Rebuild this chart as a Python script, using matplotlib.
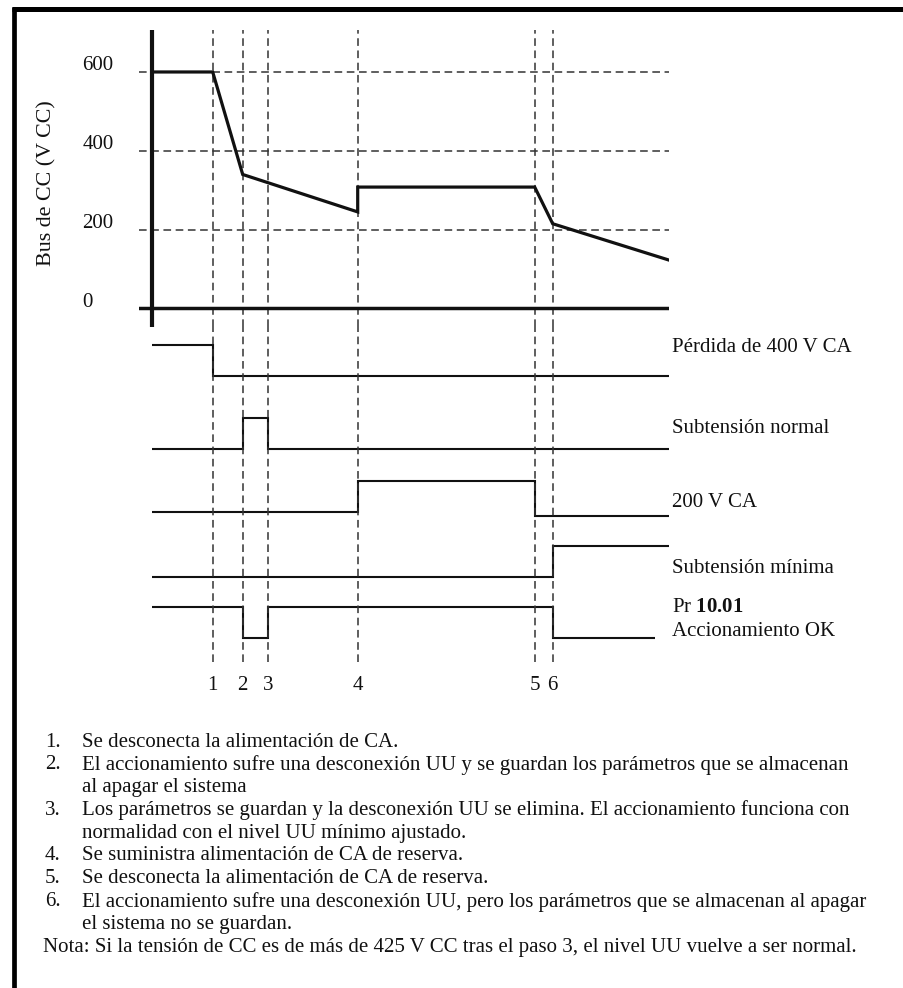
import matplotlib
matplotlib.use("Agg")
import matplotlib.pyplot as plt
from matplotlib.lines import Line2D
import numpy as np

plt.rcParams["font.family"] = ["Liberation Serif", "DejaVu Serif"]
plt.rcParams["mathtext.fontset"] = "custom"
plt.rcParams["mathtext.rm"] = "Liberation Serif"
plt.rcParams["mathtext.bf"] = "Liberation Serif:bold"

# ---- data -------------------------------------------------------------
# event instants (arbitrary time units) and end of the time window
event_labels = ["1", "2", "3", "4", "5", "6"]
event_times = [6.1, 9.1, 11.6, 20.6, 38.3, 40.1]
t_end = 51.7

# DC bus voltage trace
bus_time = [0.0, 6.1, 9.1, 20.6, 20.6, 38.3, 40.1, 51.7]
bus_volts = [600, 600, 340, 245, 308, 308, 215, 123]
volt_ticks = [0, 200, 400, 600]
volt_label = "Bus de CC (V CC)"

# logic signals: switching edges and level between edges
sig_names = ["Pérdida de 400 V CA", "Subtensión normal", "200 V CA",
             "Subtensión mínima", "Pr $\\mathbf{10.01}$\nAccionamiento OK"]
sig_edges = [
    [0.0, 6.1, 51.7],
    [0.0, 9.1, 11.6, 51.7],
    [0.0, 20.6, 38.3, 51.7],
    [0.0, 40.1, 51.7],
    [0.0, 9.1, 11.6, 40.1, 50.3],
]
sig_levels = [
    [1, 0],
    [0, 1, 0],
    [0, 1, -0.13],
    [0, 1],
    [1, 0, 1, 0],
]

notes = [
    ("1.", "Se desconecta la alimentación de CA."),
    ("2.", "El accionamiento sufre una desconexión UU y se guardan los parámetros que se almacenan"),
    ("", "al apagar el sistema"),
    ("3.", "Los parámetros se guardan y la desconexión UU se elimina. El accionamiento funciona con"),
    ("", "normalidad con el nivel UU mínimo ajustado."),
    ("4.", "Se suministra alimentación de CA de reserva."),
    ("5.", "Se desconecta la alimentación de CA de reserva."),
    ("6.", "El accionamiento sufre una desconexión UU, pero los parámetros que se almacenan al apagar"),
    ("", "el sistema no se guardan."),
]
footnote = "Nota: Si la tensión de CC es de más de 425 V CC tras el paso 3, el nivel UU vuelve a ser normal."

# ---- layout -----------------------------------------------------------
W, H = 904, 988
fig = plt.figure(figsize=(W / 100, H / 100), dpi=100)


def px_rect(x0, y0, x1, y1):
    return [x0 / W, 1 - y1 / H, (x1 - x0) / W, (y1 - y0) / H]


FS = 15.0
DASH = (0, (5, 3))
GRID_C = "#333333"
INK = "#111111"

# voltage panel
ax_v = fig.add_axes(px_rect(139, 30, 668.7, 327))
ax_v.set_xlim(-1.27, t_end)
ax_v.set_ylim(-47, 706.5)
ax_v.axis("off")
for v in volt_ticks[1:]:
    ax_v.axhline(v, color=GRID_C, lw=1.1, ls=DASH)
for t in event_times:
    ax_v.axvline(t, color=GRID_C, lw=1.1, ls=DASH)
ax_v.axhline(0, color=INK, lw=2.5)
ax_v.axvline(0, color=INK, lw=3.0)
ax_v.plot(bus_time, bus_volts, color=INK, lw=2.3, solid_joinstyle="miter")
for v in volt_ticks:
    ax_v.text(-6.95, v + 16, str(v), ha="left", va="center", fontsize=FS,
              color=INK, clip_on=False)
fig.text(47 / W, 1 - 183 / H, volt_label, rotation=90, ha="center", va="center",
         fontsize=15.8, color=INK)

# logic panel (y measured downwards from the top of the drawing area)
ax_l = fig.add_axes(px_rect(139, 327, 668.7, 662), sharex=ax_v)
ax_l.set_ylim(662, 327)
ax_l.axis("off")
for t in event_times:
    ax_l.axvline(t, color=GRID_C, lw=1.1, ls=DASH)

row_low = [375.7, 448.7, 511.7, 576.7, 637.7]
row_amp = 31
label_y = [347, 428, 502, 568, 619.5]
for edges, levels, base, name, ly in zip(sig_edges, sig_levels, row_low, sig_names, label_y):
    vals = base - np.asarray(levels, dtype=float) * row_amp
    ax_l.stairs(vals, edges, baseline=None, color=INK, lw=1.5)
    ax_l.text(t_end + 0.3, ly, name, ha="left", va="center", fontsize=FS,
              color=INK, clip_on=False, linespacing=1.3)

for t, lab in zip(event_times, event_labels):
    ax_l.text(t, 685, lab, ha="center", va="center", fontsize=FS, color=INK,
              clip_on=False)

# numbered notes
y0, dy = 742, 22.8
for i, (num, txt) in enumerate(notes):
    y = y0 + i * dy
    if num:
        fig.text(45 / W, 1 - y / H, num, ha="left", va="center", fontsize=FS, color=INK)
    fig.text(82 / W, 1 - y / H, txt, ha="left", va="center", fontsize=FS, color=INK)
fig.text(43 / W, 1 - (y0 + len(notes) * dy) / H, footnote, ha="left", va="center",
         fontsize=FS, color=INK)

# frame
fig.add_artist(Line2D([14 / W, 14 / W], [1 - 7 / H, 0], transform=fig.transFigure,
                      color="black", lw=3.4, solid_capstyle="butt"))
fig.add_artist(Line2D([12 / W, 1], [1 - 9.5 / H, 1 - 9.5 / H], transform=fig.transFigure,
                      color="black", lw=3.6, solid_capstyle="butt"))

fig.savefig("out.png", dpi=100)
